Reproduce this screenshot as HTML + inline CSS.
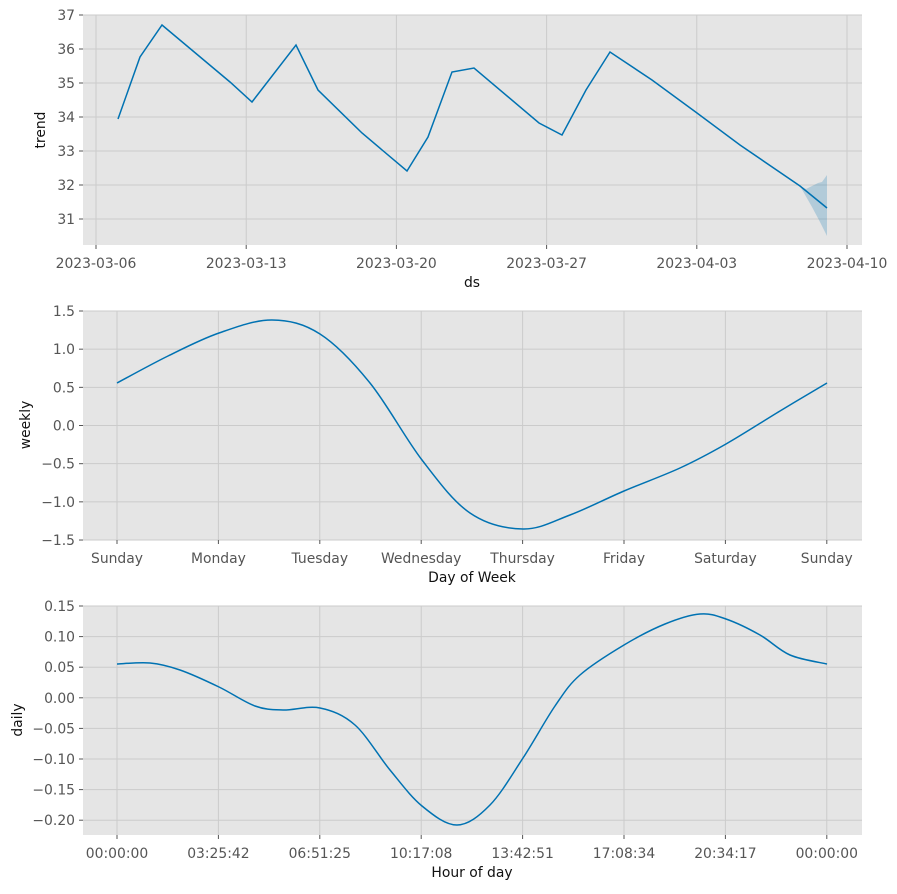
<!DOCTYPE html>
<html><head><style>
body{margin:0;background:#fff;}
svg text{font-family:"DejaVu Sans","Liberation Sans",sans-serif;}
.tk{font-size:13.9px;fill:#555;}
.lb{font-size:13.9px;fill:#111;}
.g{stroke:#cbcbcb;stroke-width:1;}
</style></head><body>
<svg id="s" width="897" height="889" xmlns="http://www.w3.org/2000/svg">
<rect x="83" y="15" width="779" height="230" fill="#e5e5e5"/>
<rect x="83" y="311" width="779" height="229" fill="#e5e5e5"/>
<rect x="83" y="606" width="779" height="229" fill="#e5e5e5"/>
<g id="grid"></g>
<path d="M800,186 L806,189 L812,186 L818,183 L822,182 L827,175 L827,236 L820,222 L812,207 Z" fill="#0072b2" fill-opacity="0.22"/>
<path id="p1" fill="none" stroke="#0072b2" stroke-width="1.5"/>
<path id="p2" fill="none" stroke="#0072b2" stroke-width="1.5"/>
<path id="p3" fill="none" stroke="#0072b2" stroke-width="1.5"/>
<text class="lb" x="472" y="287" text-anchor="middle">ds</text>
<text class="lb" x="472" y="582" text-anchor="middle">Day of Week</text>
<text class="lb" x="472" y="877" text-anchor="middle">Hour of day</text>
<text class="lb" transform="translate(45,130) rotate(-90)" text-anchor="middle">trend</text>
<text class="lb" transform="translate(30,425) rotate(-90)" text-anchor="middle">weekly</text>
<text class="lb" transform="translate(22,720) rotate(-90)" text-anchor="middle">daily</text>
</svg>
<script>
var g=document.getElementById('grid'),h='';
function hl(y,x0,x1,lab){h+='<line class="g" x1="83" x2="862" y1="'+y+'" y2="'+y+'"/><line stroke="#555" x1="79" x2="83" y1="'+y+'" y2="'+y+'"/><text class="tk" x="75" y="'+(y+5)+'" text-anchor="end">'+lab+'</text>';}
function vl(x,y0,y1,lab){h+='<line class="g" x1="'+x+'" x2="'+x+'" y1="'+y0+'" y2="'+y1+'"/><line stroke="#555" x1="'+x+'" x2="'+x+'" y1="'+y1+'" y2="'+(y1+4)+'"/><text class="tk" x="'+x+'" y="'+(y1+23)+'" text-anchor="middle">'+lab+'</text>';}
for(var i=0;i<7;i++)hl(15+i*34,0,0,37-i);
['2023-03-06','2023-03-13','2023-03-20','2023-03-27','2023-04-03','2023-04-10'].forEach(function(l,i){vl(96+i*150.2,15,245,l);});
['1.5','1.0','0.5','0.0','\u22120.5','\u22121.0','\u22121.5'].forEach(function(l,i){hl(311+i*38.17,0,0,l);});
['Sunday','Monday','Tuesday','Wednesday','Thursday','Friday','Saturday','Sunday'].forEach(function(l,i){vl(117+i*101.4,311,540,l);});
['0.15','0.10','0.05','0.00','\u22120.05','\u22120.10','\u22120.15','\u22120.20'].forEach(function(l,i){hl(606+i*30.6,0,0,l);});
['00:00:00','03:25:42','06:51:25','10:17:08','13:42:51','17:08:34','20:34:17','00:00:00'].forEach(function(l,i){vl(117+i*101.4,606,835,l);});
g.innerHTML=h;
function cr(p){var d='M'+p[0][0]+','+p[0][1];for(var i=0;i<p.length-1;i++){var a=p[i-1]||p[i],b=p[i],c=p[i+1],e=p[i+2]||c;d+=' C'+(b[0]+(c[0]-a[0])/6)+','+(b[1]+(c[1]-a[1])/6)+' '+(c[0]-(e[0]-b[0])/6)+','+(c[1]-(e[1]-b[1])/6)+' '+c[0]+','+c[1];}return d;}
var t=[[118,119],[140,57],[162,25],[230,82],[252,102],[296,45],[318,90],[362,133],[407,171],[428,137],[452,72],[474,68],[539,123],[562,135],[586,90],[610,52],[652,80],[697,113],[740,145],[800,186],[827,208]];
document.getElementById('p1').setAttribute('d','M'+t.map(function(p){return p.join(',')}).join(' L'));
document.getElementById('p2').setAttribute('d',cr([[117,383],[168,356],[219,333],[272,320],[320,334],[370,383],[422,460],[470,513],[523,529],[570,515],[624,491],[680,468],[726,444],[780,411],[827,383]]));
document.getElementById('p3').setAttribute('d',cr([[117,664],[150,663],[180,670],[219,687],[255,706],[283,710],[320,708],[355,725],[390,770],[422,806],[457,825],[490,805],[523,758],[555,706],[580,675],[624,645],[665,624],[700,614],[726,619],[760,635],[790,655],[827,664]]));
</script>
</body></html>
